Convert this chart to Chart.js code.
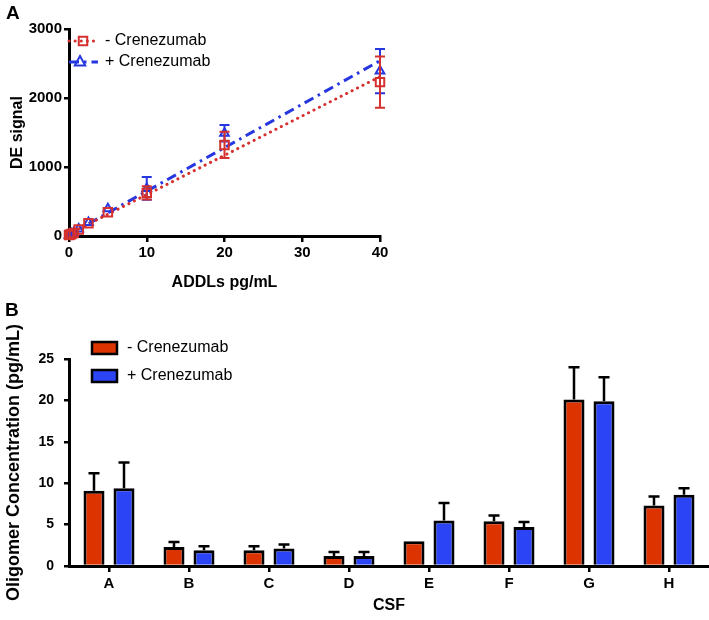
<!DOCTYPE html>
<html>
<head>
<meta charset="utf-8">
<script src="https://cdn.jsdelivr.net/npm/chart.js@4.4.1/dist/chart.umd.min.js"></script>
<style>
  body { margin: 0; background: #fff; width: 709px; height: 620px; position: relative; overflow: hidden; font-family: "Liberation Sans", Arial, sans-serif; }
  canvas { position: absolute; left: 0; }
  #chartA { top: 0; }
  #chartB { top: 295px; }
  .panel { position: absolute; font-weight: bold; font-size: 19px; line-height: 1; color: #000; }
</style>
</head>
<body>
<canvas id="chartA" width="400" height="295"></canvas>
<canvas id="chartB" width="709" height="325"></canvas>
<div class="panel" style="left:6px;top:3px">A</div>
<div class="panel" style="left:5px;top:300px">B</div>
<script>
// panel A - DE signal vs ADDL concentration
const doses = [0, 0.156, 0.3125, 0.625, 1.25, 2.5, 5, 10, 20, 40];
const minusSignal = [15, 20, 30, 45, 95, 185, 345, 625, 1320, 2230];
const minusErr = [8, 8, 10, 12, 15, 20, 30, 95, 190, 370];
const plusSignal = [10, 18, 28, 50, 100, 195, 395, 690, 1490, 2390];
const plusErr = [6, 6, 8, 10, 15, 20, 35, 165, 120, 320];
const fitX = [0, 40];
const minusFit = [30, 2310];
const plusFit = [20, 2540];
const seriesNames = ["- Crenezumab", "+ Crenezumab"];

// panel B - oligomer concentration per CSF sample
const csfLabels = ["A", "B", "C", "D", "E", "F", "G", "H"];
const minusConc = [9.1, 2.3, 1.9, 1.2, 3.0, 5.4, 20.1, 7.3];
const minusConcErr = [2.1, 0.6, 0.5, 0.5, 0, 0.7, 3.9, 1.1];
const plusConc = [9.4, 1.9, 2.1, 1.2, 5.5, 4.7, 19.9, 8.6];
const plusConcErr = [3.1, 0.5, 0.5, 0.5, 2.1, 0.6, 2.9, 0.8];

const RED_A = "#d5302e";
const BLUE_A = "#2636e0";
const RED_B = "#dc3300";
const BLUE_B = "#2a44f6";

Chart.defaults.font.family = "'Liberation Sans', Arial, sans-serif";
Chart.defaults.color = "#000";

const toPoints = (xs, ys) => xs.map((x, i) => ({ x: x, y: ys[i] }));
const plainTick = (v) => String(v);

const axisGrid = {
  display: true,
  drawOnChartArea: false,
  drawTicks: true,
  tickLength: 5,
  lineWidth: 2.5,
  color: "#000",
};
const axisBorder = { display: true, width: 3, color: "#000" };

const drawMarker = (ctx, style, x, y, r) => {
  ctx.beginPath();
  if (style === "rect") {
    const s = r * Math.SQRT1_2;
    ctx.rect(x - s, y - s, 2 * s, 2 * s);
  } else {
    const h = r * 1.5;
    ctx.moveTo(x, y - r);
    ctx.lineTo(x + h * 0.58, y + r * 0.6);
    ctx.lineTo(x - h * 0.58, y + r * 0.6);
    ctx.closePath();
  }
  ctx.stroke();
};

// error bars for the scatter points (both directions, series colour)
const scatterErrors = {
  id: "scatterErrors",
  afterDatasetDraw(chart, args) {
    const ds = chart.data.datasets[args.index];
    if (!ds.errorValues) return;
    const { ctx, scales: { x, y } } = chart;
    ctx.save();
    ctx.strokeStyle = ds.borderColor;
    ctx.lineWidth = 2;
    ds.data.forEach((pt, j) => {
      const err = ds.errorValues[j];
      const px = x.getPixelForValue(pt.x);
      const top = y.getPixelForValue(pt.y + err);
      const bot = y.getPixelForValue(pt.y - err);
      if (bot - top < 10) return;
      ctx.beginPath();
      ctx.moveTo(px, top); ctx.lineTo(px, bot);
      ctx.moveTo(px - 5, top); ctx.lineTo(px + 5, top);
      ctx.moveTo(px - 5, bot); ctx.lineTo(px + 5, bot);
      ctx.stroke();
    });
    ctx.restore();
  },
};

const legendA = {
  id: "legendA",
  afterDraw(chart) {
    const ctx = chart.ctx;
    const rows = [
      { pts: chart.data.datasets[0], line: chart.data.datasets[2], y: 41, mx: 83 },
      { pts: chart.data.datasets[1], line: chart.data.datasets[3], y: 62, mx: 80 },
    ];
    ctx.save();
    rows.forEach((row) => {
      ctx.strokeStyle = row.line.borderColor;
      ctx.lineWidth = 3;
      ctx.lineCap = row.line.borderCapStyle || "butt";
      ctx.setLineDash(row.line.borderDash);
      ctx.beginPath();
      ctx.moveTo(69, row.y); ctx.lineTo(98, row.y);
      ctx.stroke();
      ctx.setLineDash([]);
      ctx.lineWidth = 2;
      drawMarker(ctx, row.pts.pointStyle, row.mx, row.y, 6);
      ctx.fillStyle = "#000";
      ctx.font = "16px 'Liberation Sans', Arial, sans-serif";
      ctx.textBaseline = "middle";
      ctx.fillText(row.pts.label, 105, row.y);
    });
    ctx.restore();
  },
};

new Chart(document.getElementById("chartA"), {
  type: "scatter",
  data: {
    datasets: [
      {
        label: seriesNames[0],
        data: toPoints(doses, minusSignal),
        errorValues: minusErr,
        borderColor: RED_A,
        backgroundColor: "rgba(255,255,255,0)",
        pointStyle: "rect",
        pointRadius: 6,
        pointBorderWidth: 2,
        clip: false,
        order: 1,
      },
      {
        label: seriesNames[1],
        data: toPoints(doses, plusSignal),
        errorValues: plusErr,
        borderColor: BLUE_A,
        backgroundColor: "rgba(255,255,255,0)",
        pointStyle: "triangle",
        pointRadius: 5,
        pointBorderWidth: 2,
        clip: false,
        order: 2,
      },
      {
        type: "line",
        label: "fit -",
        data: toPoints(fitX, minusFit),
        borderColor: RED_A,
        borderWidth: 3,
        borderDash: [0.1, 6],
        borderCapStyle: "round",
        pointRadius: 0,
        fill: false,
        order: 3,
      },
      {
        type: "line",
        label: "fit +",
        data: toPoints(fitX, plusFit),
        borderColor: BLUE_A,
        borderWidth: 3,
        borderDash: [10, 5, 2.5, 5],
        pointRadius: 0,
        fill: false,
        order: 4,
      },
    ],
  },
  options: {
    responsive: false,
    animation: false,
    layout: { padding: { top: 29, right: 20, left: 0, bottom: 0 } },
    plugins: { legend: { display: false }, tooltip: { enabled: false } },
    scales: {
      x: {
        type: "linear",
        min: 0,
        max: 40,
        ticks: { stepSize: 10, font: { size: 15, weight: "bold" }, padding: 2, callback: plainTick },
        grid: { ...axisGrid, tickLength: 6 },
        border: axisBorder,
        title: { display: true, text: "ADDLs pg/mL", font: { size: 16, weight: "bold" }, padding: { top: 0, bottom: 3 } },
        afterFit: (s) => { s.height = 59; },
      },
      y: {
        type: "linear",
        min: 0,
        max: 3000,
        ticks: { stepSize: 1000, font: { size: 15, weight: "bold" }, padding: 2, callback: plainTick },
        grid: axisGrid,
        border: axisBorder,
        title: { display: true, text: "DE signal", font: { size: 16, weight: "bold" }, padding: { top: 8, bottom: 0 } },
        afterFit: (s) => { s.width = 69; },
      },
    },
  },
  plugins: [scatterErrors, legendA],
});

// upward error whiskers on the bars
const barErrors = {
  id: "barErrors",
  afterDatasetsDraw(chart) {
    const { ctx, scales: { y } } = chart;
    ctx.save();
    ctx.strokeStyle = "#000";
    ctx.lineWidth = 2.5;
    chart.data.datasets.forEach((ds, i) => {
      const meta = chart.getDatasetMeta(i);
      meta.data.forEach((bar, j) => {
        const err = ds.errorValues[j];
        if (!err) return;
        const top = y.getPixelForValue(ds.data[j] + err);
        ctx.beginPath();
        ctx.moveTo(bar.x, bar.y); ctx.lineTo(bar.x, top);
        ctx.moveTo(bar.x - 5.5, top); ctx.lineTo(bar.x + 5.5, top);
        ctx.stroke();
      });
    });
    ctx.restore();
  },
};

const legendB = {
  id: "legendB",
  afterDraw(chart) {
    const ctx = chart.ctx;
    ctx.save();
    chart.data.datasets.forEach((ds, i) => {
      const yc = 53 + i * 28;
      ctx.fillStyle = ds.backgroundColor;
      ctx.fillRect(92, yc - 6, 25, 12);
      ctx.strokeStyle = "#000";
      ctx.lineWidth = 2.5;
      ctx.strokeRect(92, yc - 6, 25, 12);
      ctx.fillStyle = "#000";
      ctx.font = "16px 'Liberation Sans', Arial, sans-serif";
      ctx.textBaseline = "middle";
      ctx.fillText(ds.label, 127, yc);
    });
    ctx.restore();
  },
};

new Chart(document.getElementById("chartB"), {
  type: "bar",
  data: {
    labels: csfLabels,
    datasets: [
      {
        label: seriesNames[0],
        data: minusConc,
        errorValues: minusConcErr,
        backgroundColor: RED_B,
        borderColor: "#000",
        borderWidth: 3,
        categoryPercentage: 0.75,
        barPercentage: 0.7,
      },
      {
        label: seriesNames[1],
        data: plusConc,
        errorValues: plusConcErr,
        backgroundColor: BLUE_B,
        borderColor: "#000",
        borderWidth: 3,
        categoryPercentage: 0.75,
        barPercentage: 0.7,
      },
    ],
  },
  options: {
    responsive: false,
    animation: false,
    layout: { padding: { top: 64, right: 0, left: 0, bottom: 0 } },
    plugins: { legend: { display: false }, tooltip: { enabled: false } },
    scales: {
      x: {
        ticks: { font: { size: 15, weight: "bold" }, padding: 3 },
        grid: { ...axisGrid, offset: false, tickLength: 6 },
        border: axisBorder,
        title: { display: true, text: "CSF", font: { size: 16, weight: "bold" }, padding: { top: 0, bottom: 5 } },
        afterFit: (s) => { s.height = 54; },
      },
      y: {
        min: 0,
        max: 25,
        ticks: { stepSize: 5, font: { size: 14, weight: "bold" }, padding: 10 },
        grid: axisGrid,
        border: axisBorder,
        title: { display: true, text: "Oligomer Concentration (pg/mL)", font: { size: 18, weight: "bold" }, padding: { top: 3, bottom: 0 } },
        afterFit: (s) => { s.width = 69; },
      },
    },
  },
  plugins: [barErrors, legendB],
});
</script>
</body>
</html>
